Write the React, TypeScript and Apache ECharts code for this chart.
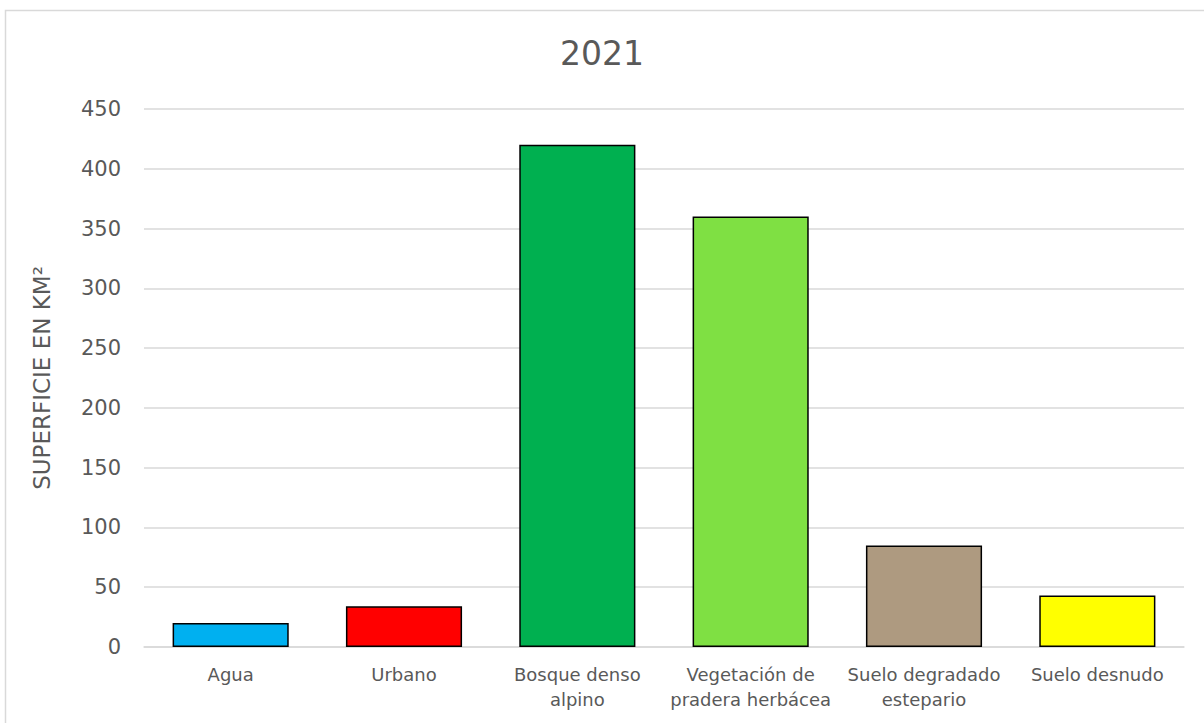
import React, { useEffect, useRef } from "react";
import * as echarts from "echarts";

const categories = [
  "Agua",
  "Urbano",
  "Bosque denso\nalpino",
  "Vegetación de\npradera herbácea",
  "Suelo degradado\nestepario",
  "Suelo desnudo",
];
const values = [20, 34, 420, 360, 85, 43];
const barColors = ["#00B0F0", "#FF0000", "#00B050", "#7FE043", "#AE9A80", "#FFFF00"];
const titleText = "2021";
const yAxisName = "SUPERFICIE EN KM²";

const FONT = "'DejaVu Sans', sans-serif";

export default function App() {
  const ref = useRef<HTMLDivElement>(null);
  useEffect(() => {
    if (!ref.current) return;
    const chart = echarts.init(ref.current, undefined, { renderer: "svg" });
    chart.setOption({
      animation: false,
      backgroundColor: "#ffffff",
      title: {
        text: titleText,
        left: "center",
        top: 32,
        textStyle: { fontFamily: FONT, fontSize: 33, fontWeight: "normal", color: "#595959" },
      },
      graphic: [
        {
          type: "rect",
          shape: { x: 5.5, y: 10.5, width: 1400, height: 900 },
          style: { fill: "none", stroke: "#d9d9d9", lineWidth: 1.5 },
          silent: true,
        },
      ],
      grid: { left: 144, right: 20, top: 109, bottom: 76, containLabel: false },
      xAxis: {
        type: "category",
        data: categories,
        axisLine: { show: true, lineStyle: { color: "#d9d9d9", width: 1.5 } },
        axisTick: { show: false },
        axisLabel: {
          fontFamily: FONT,
          fontSize: 18,
          color: "#595959",
          lineHeight: 25,
          margin: 15,
          interval: 0,
        },
      },
      yAxis: {
        type: "value",
        min: 0,
        max: 450,
        interval: 50,
        name: yAxisName,
        nameLocation: "middle",
        nameGap: 91,
        nameTextStyle: { fontFamily: FONT, fontSize: 23, color: "#595959" },
        axisLine: { show: false },
        axisTick: { show: false },
        axisLabel: { fontFamily: FONT, fontSize: 21, color: "#595959", margin: 23 },
        splitLine: { lineStyle: { color: "#d9d9d9", width: 1.5 } },
      },
      series: [
        {
          type: "bar",
          data: values.map((v, i) => ({ value: v, itemStyle: { color: barColors[i] } })),
          barWidth: "67%",
          itemStyle: { borderColor: "#000000", borderWidth: 1.5 },
        },
      ],
    });
    return () => chart.dispose();
  }, []);
  return (
    <div
      ref={ref}
      style={{ position: "fixed", left: 0, top: 0, width: 1204, height: 723 }}
    />
  );
}
